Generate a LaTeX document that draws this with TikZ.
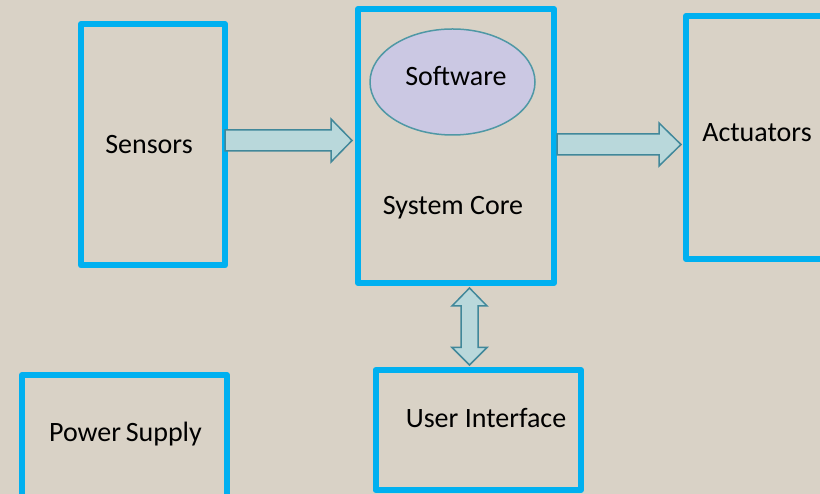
\documentclass[tikz,border=0pt]{standalone}
\usepackage{fontspec}
\setmainfont{Carlito}
\usetikzlibrary{shapes.geometric}
\usetikzlibrary{calc}

\definecolor{bgsand}{RGB}{217,210,198}
\definecolor{boxcyan}{RGB}{0,176,240}
\definecolor{arrowfill}{RGB}{185,216,219}
\definecolor{arrowedge}{RGB}{65,136,154}
\definecolor{swfill}{RGB}{203,200,227}
\definecolor{swedge}{RGB}{79,152,165}

\tikzset{
	unit/.style={draw=boxcyan, line width=6pt, line join=round, inner sep=0pt},
	lbl/.style={anchor=base, inner sep=0pt, font=\fontsize{28}{33}\selectfont},
	blkarrow/.style={draw=arrowedge, fill=arrowfill, line width=1.5pt, line join=miter},
}

\begin{document}
\begin{tikzpicture}[x=1pt, y=1pt]
	\useasboundingbox (0,0) rectangle (820,494);
	\fill[bgsand] (0,0) rectangle (820,494);

	% blocks
	\node[unit, minimum width=144pt, minimum height=241.5pt] (sensors) at (153,349.25) {};
	\node[unit, minimum width=196pt, minimum height=274pt] (core) at (456,348) {};
	\node[unit, minimum width=144pt, minimum height=243pt] (act) at (758,356.5) {};
	\node[unit, minimum width=205.5pt, minimum height=120pt] (ui) at (478.25,64) {};
	\node[unit, minimum width=205pt, minimum height=130pt] (power) at (124.5,54) {};
	\node[ellipse, draw=swedge, fill=swfill, line width=1.5pt, minimum width=165pt, minimum height=106pt] (sw) at (452.5,412) {};

	% labels
	\node[lbl] (sensorslbl) at ([shift={(-4,-9.25)}]sensors.center) {Sensors};
	\node[lbl] (swlbl) at ([shift={(3.5,-4)}]sw.center) {Software};
	\node[lbl] (corelbl) at ([shift={(-3,71)}]core.south) {System Core};
	\node[lbl] (actlbl) at ([shift={(-1,-4.5)}]act.center) {Actuators};
	\node[lbl] (uilbl) at ([shift={(7.75,2)}]ui.center) {User Interface};
	\node[lbl] (powerlbl) at ([shift={(1,-2)}]power.center) {Power\,Supply};

	% sensors -> core
	\draw[blkarrow] let \p1=($(sensors.east)+(-3,4.25)$), \p2=($(core.west)+(-3,0)$) in
		(\x1,\y1+10.5) -- (\x2-21,\y1+10.5) -- (\x2-21,\y1+21.5) -- (\x2,\y1)
		-- (\x2-21,\y1-21.5) -- (\x2-21,\y1-10.5) -- (\x1,\y1-10.5) -- cycle;
	% core -> actuators
	\draw[blkarrow] let \p1=($(core.east)+(0,1.5)$), \p2=($(act.west)+(-2,0)$) in
		(\x1,\y1+10.5) -- (\x2-22,\y1+10.5) -- (\x2-22,\y1+21.5) -- (\x2,\y1)
		-- (\x2-22,\y1-21.5) -- (\x2-22,\y1-10.5) -- (\x1,\y1-10.5) -- cycle;
	% core <-> user interface
	\draw[blkarrow] let \p1=($(core.south)+(13.5,-2)$), \p2=($(ui.north)+(-8.75,2)$) in
		(\x1,\y1) -- (\x1+17.5,\y1-18) -- (\x1+8.5,\y1-18) -- (\x1+8.5,\y2+17.5)
		-- (\x1+17.5,\y2+17.5) -- (\x1,\y2) -- (\x1-17.5,\y2+17.5) -- (\x1-8.5,\y2+17.5)
		-- (\x1-8.5,\y1-18) -- (\x1-17.5,\y1-18) -- cycle;
\end{tikzpicture}
\end{document}
